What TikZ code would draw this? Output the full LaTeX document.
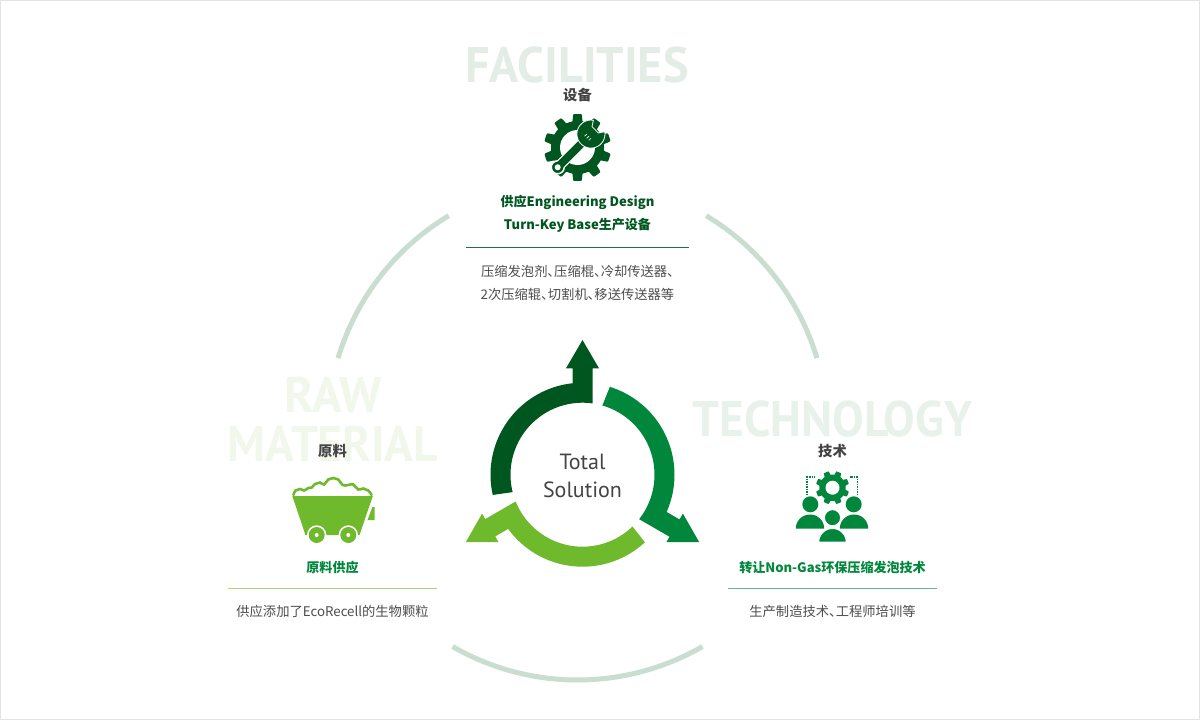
\documentclass[tikz,border=0pt]{standalone}
\usepackage{graphicx}
\usepackage{fontspec}
\setmainfont{Noto Sans CJK SC}[RawFeature={+palt}]
\newfontfamily\din{PT Sans}
\definecolor{cDark}{HTML}{00561F}
\definecolor{cMid}{HTML}{00873C}
\definecolor{cLight}{HTML}{6FB92C}
\definecolor{cRing}{HTML}{C9DDD0}
\definecolor{cText}{HTML}{444444}
\definecolor{cBigA}{HTML}{E3ECE5}
\definecolor{cBigB}{HTML}{F2F7EC}
\definecolor{cBigC}{HTML}{E8F1EA}
\tikzset{
  bigword/.style={anchor=base,font=\din\bfseries\fontsize{50}{50}\selectfont,inner sep=0pt},
  head/.style={anchor=base,font=\bfseries\fontsize{14.3}{14.3}\selectfont,text=cText,inner sep=0pt},
  sub/.style={anchor=base,font=\bfseries\fontsize{13.05}{13.05}\selectfont,inner sep=0pt},
  desc/.style={anchor=base,font=\fontsize{13.3}{13.3}\selectfont,text=cText!95,inner sep=0pt},
  centre/.style={anchor=base,font=\din\fontsize{22}{22}\selectfont,text=cText,inner sep=0pt},
  rim/.style={cRing,line width=5pt},
  rule/.style={line width=1pt}
}
% centre x, teeth, outer r, root r, phase, colour, centre y
\newcommand{\gearfill}[7]{%
  \fill[#6] plot[domain=0:360,samples=241,variable=\t]
   ({#1+(#4+(#3-#4)*max(0,min(1,(0.3-abs(mod((\t+#5)*#2/360,1)-0.5))/0.1)))*cos(\t)},
    {#7+(#4+(#3-#4)*max(0,min(1,(0.3-abs(mod((\t+#5)*#2/360,1)-0.5))/0.1)))*sin(\t)}) -- cycle;}
\begin{document}
\begin{tikzpicture}[x=1pt,y=-1pt]
\useasboundingbox (0,0) rectangle (1200,720);
\fill[white] (0,0) rectangle (1200,720);
\draw[gray!22,line width=.8pt] (.5,.5) rectangle (1199.5,719.5);

% large ring
\draw[rim] plot[domain=-163.3:-121,samples=50,variable=\t] ({577.5+250*cos(\t)},{430+250*sin(\t)});
\draw[rim] plot[domain=-59:-16.7,samples=50,variable=\t] ({577.5+250*cos(\t)},{430+250*sin(\t)});
\draw[rim] plot[domain=60:120,samples=60,variable=\t] ({577.5+250*cos(\t)},{430+250*sin(\t)});

% background words
\node[bigword,text=cBigA] (wFac) at (577,82.5) {\scalebox{.965}[1]{FACILITIES}};
\node[bigword,text=cBigB] (wRaw) at (333.5,412) {\scalebox{.98}[1]{RAW}};
\node[bigword,text=cBigB] (wMat) at (333,461) {\scalebox{.95}[1]{MATERIAL}};
\node[bigword,text=cBigC] (wTec) at (832.5,436) {\scalebox{.945}[1]{TECHNOLOGY}};

% centre arrows
\foreach \rot/\col in {0/cDark,-120/cMid,-240/cLight}{
\begin{scope}[rotate around={\rot:(582.5,474.7)}]
\fill[\col] plot[domain=167.3:263.9,samples=50,variable=\t] ({582.5+92*cos(\t)},{474.7+92*sin(\t)})
  -- (572.7,368.3) -- (566,368.3) -- (582.5,340) -- (599,368.3) -- (592.7,368.3) -- (592.7,403.4)
  -- plot[domain=278.1:166,samples=50,variable=\t] ({582.5+72*cos(\t)},{474.7+72*sin(\t)}) -- cycle;
\end{scope}}
\node[centre] (cTotal) at (582.5,469.5) {Total};
\node[centre] (cSol) at (582.5,497) {Solution};

% facilities column
\node[head] (fHead) at (577.5,100.5) {设备};
\node[sub,text=cDark] (fSubA) at (577.5,206) {供应Engineering Design};
\node[sub,text=cDark] (fSubB) at (577.5,229) {Turn-Key Base生产设备};
\coordinate (fL) at (466,247); \coordinate (fR) at (689,247);
\draw[rule,cDark!85,line width=.8pt] (fL) -- (fR);
\node[desc] (fDescA) at (577.5,276.3) {压缩发泡剂、压缩棍、冷却传送器、};
\node[desc] (fDescB) at (577.5,299.3) {2次压缩辊、切割机、移送传送器等};

% gear + wrench
\gearfill{577.5}{10}{33.5}{26.5}{0}{cDark}{147.5}
\fill[white] (577.5,147.5) circle[radius=17.5];
\begin{scope}[shift={(577.5,147.5)},rotate=45]
  \draw[white,line width=1.5pt,fill=cDark] (-28,-4.5) -- (14,-4.5) -- (14,4.5) -- (-28,4.5) -- cycle;
  \draw[white,line width=1.5pt,fill=cDark] (-28,0) circle[radius=6.5];
  \fill[cDark] (-26,-4) rectangle (16,4);
  \fill[white] (-28,0) circle[radius=3];
  \draw[white,line width=.8pt,fill=cDark] plot[domain=35:325,samples=60,variable=\t] ({19+14*cos(\t)},{14*sin(\t)}) -- (25,-4.5) -- (25,4.5) -- cycle;
  \fill[cDark] (8,-4) rectangle (12,4);
  \draw[white,line width=.7pt] (13,-3) -- (16,-3) (13,0) -- (16,0) (13,3) -- (16,3);
\end{scope}

% raw material column
\node[head] (rHead) at (332.5,456.5) {原料};
\node[sub,text=cMid] (rSub) at (332.5,572) {原料供应};
\coordinate (rL) at (228,588); \coordinate (rR) at (437,588);
\draw[rule,cLight!60] (rL) -- (rR);
\node[desc] (rDesc) at (332.5,616.3) {供应添加了EcoRecell的生物颗粒};

% cart
\draw[cLight,line width=2.6pt,line cap=round] plot[smooth,tension=.8] coordinates {
 (293.5,495) (295.5,490.5) (300,489) (304,490.5) (308.3,488) (311.7,487.5) (315,484) (320,482.5) (324,484.5) (328.3,479.5) (333.3,478) (338.3,479.5) (342.7,485) (348.3,485) (353.3,484.5) (358.3,489.5) (363.3,488.5) (368.3,490.5) (371.5,495)};
\fill[cLight] (292.3,496) -- (372.8,496) -- (359.5,535) -- (305.5,535) -- cycle;
\fill[cLight] (367.5,520) -- (372.4,507) -- (374.5,507) -- (374.5,520) -- cycle;
\foreach \wx in {316.7,348.3}{
  \fill[white] (\wx,535) circle[radius=9.7];
  \fill[cLight] (\wx,535) circle[radius=8];
  \fill[white] (\wx,535) circle[radius=2];
}

% technology column
\node[head] (tHead) at (832.5,456.5) {技术};
\node[sub,text=cMid] (tSub) at (832.5,572) {转让Non-Gas环保压缩发泡技术};
\coordinate (tL) at (728,588); \coordinate (tR) at (937,588);
\draw[rule,cMid!60] (tL) -- (tR);
\node[desc] (tDesc) at (832.5,616.3) {生产制造技术、工程师培训等};

% people icon
\gearfill{832.5}{8}{16.7}{13.2}{0}{cMid}{487.7}
\fill[white] (832.5,487.7) circle[radius=7];
\draw[cMid,line width=1.8pt,dash pattern=on 1.5pt off 1pt] (807,495) -- (807,477.3) -- (815,477.3);
\draw[cMid,line width=1.8pt,dash pattern=on 1.5pt off 1pt] (857.5,495) -- (857.5,477.3) -- (849.5,477.3);
\fill[cMid] (810.3,504.3) circle[radius=8];
\fill[cMid] (853.7,504.3) circle[radius=8];
\fill[cMid] plot[domain=180:360,samples=40,variable=\t] ({810+14.2*cos(\t)},{528.7+14.2*sin(\t)}) -- cycle;
\fill[cMid] plot[domain=180:360,samples=40,variable=\t] ({854+14.2*cos(\t)},{528.7+14.2*sin(\t)}) -- cycle;
\draw[white,line width=1.6pt,fill=cMid] (832.5,517.7) circle[radius=8.4];
\draw[white,line width=1.2pt,fill=cMid] plot[domain=180:360,samples=40,variable=\t] ({832.5+13.9*cos(\t)},{542.3+13.9*sin(\t)}) -- cycle;
\end{tikzpicture}
\end{document}
